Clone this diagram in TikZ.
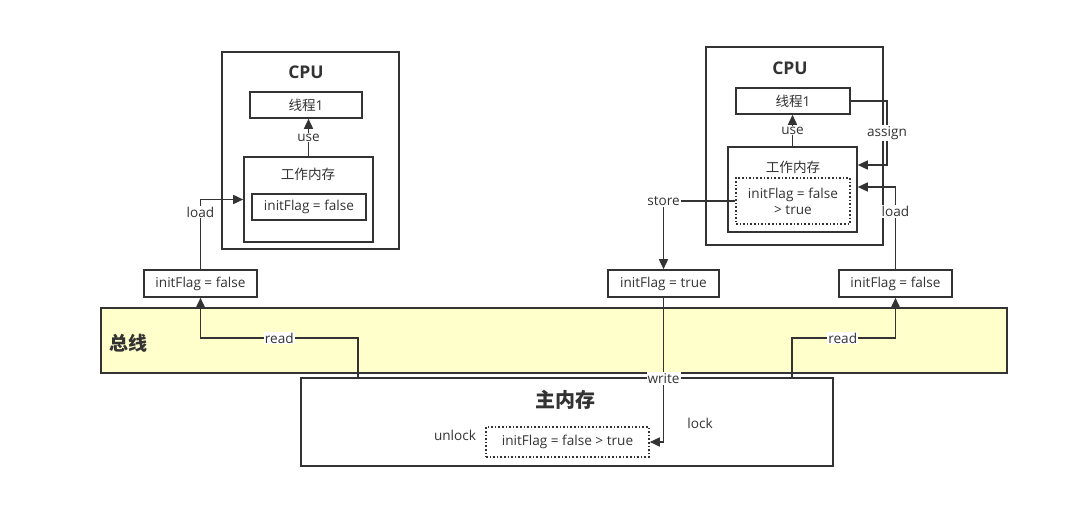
\documentclass[tikz,border=0pt]{standalone}
\usepackage{fontspec}
\setmainfont{Open Sans}
\newfontfamily\cjk{Noto Sans CJK SC}
\usetikzlibrary{arrows.meta}
\definecolor{ln}{HTML}{333333}
\definecolor{busfill}{HTML}{FFFFCC}
\tikzset{
  box/.style={draw=ln, line width=1.6pt, fill=white, inner sep=0pt, text=ln, font=\fontsize{13.6}{16}\selectfont},
  dotbox/.style={box, dotted, align=center},
  plain/.style={inner sep=1pt, text=ln, font=\fontsize{13.6}{16}\selectfont},
  lab/.style={plain, fill=white},
  title/.style={inner sep=0pt, text=ln, font=\fontsize{17.5}{20}\selectfont\bfseries},
  conn/.style={draw=ln, line width=1.6pt, -{Triangle[length=10pt,width=9pt]}},
}
\begin{document}
\begin{tikzpicture}[x=1pt,y=-1pt]
\useasboundingbox (0,0) rectangle (1069,529);

% bus
\node[box, fill=busfill, minimum width=906pt, minimum height=65pt] (bus) at (554,340.5) {};
\node[title, font=\fontsize{19}{22}\selectfont\bfseries\cjk] (bustxt) at (128,343) {总线};

% main memory
\node[box, minimum width=532pt, minimum height=88pt] (main) at (567,422) {};
\node[title, font=\fontsize{20}{23}\selectfont\bfseries\cjk] (maintxt) at (565,400) {主内存};
\node[dotbox, minimum width=163pt, minimum height=30pt] (mdot) at (567.5,442) {initFlag = false > true};
\node[plain] (unlock) at (455,435) {unlock};
\node[plain] (lock) at (700,423) {lock};

% left CPU
\node[box, minimum width=177pt, minimum height=197pt] (lcpu) at (310.5,150.5) {};
\node[title] (lcputxt) at (306,72) {CPU};
\node[box, minimum width=112pt, minimum height=26pt] (lthr) at (306,105) {{\cjk 线程}1};
\node[box, minimum width=129pt, minimum height=85pt] (lwm) at (308.5,199.5) {};
\node[plain] (lwmtxt) at (308,174) {\cjk 工作内存};
\node[box, minimum width=114pt, minimum height=26pt] (lvar) at (309,207) {initFlag = false};
\node[box, minimum width=113pt, minimum height=27pt] (linit) at (200.5,283.5) {initFlag = false};

% right CPU
\node[box, minimum width=177pt, minimum height=198pt] (rcpu) at (794.5,146) {};
\node[title] (rcputxt) at (790,68) {CPU};
\node[box, minimum width=114pt, minimum height=26pt] (rthr) at (793,101) {{\cjk 线程}1};
\node[box, minimum width=129pt, minimum height=85pt] (rwm) at (792.5,189.5) {};
\node[plain] (rwmtxt) at (793,167) {\cjk 工作内存};
\node[dotbox, minimum width=114pt, minimum height=46pt] (rdot) at (793,201) {initFlag = false\\> true};
\node[box, minimum width=111pt, minimum height=27pt] (rtrue) at (663.5,283.5) {initFlag = true};
\node[box, minimum width=113pt, minimum height=27pt] (rinit) at (895.5,283.5) {initFlag = false};

% connectors
\draw[conn] (lwm.north) -- (lwm.north |- lthr.south) node[lab, midway] {use};
\draw[conn] (linit.north) |- (lwm.west) node[lab, pos=0.41] {load};
\draw[conn] (rwm.north) -- (rwm.north |- rthr.south) node[lab, midway] {use};
\coordinate (asg) at (887,165);
\draw[conn] (rthr.east) -| (asg) node[lab, pos=0.75] {assign} -- (rwm.east |- asg);
\draw[conn] (rinit.north) |- ([yshift=2.5pt]rwm.east) node[lab, pos=0.35] {load};
\draw[conn] (rdot.west) -| (rtrue.north) node[lab, pos=0.5] {store};
\draw[conn] (rtrue.south) |- (mdot.east) node[lab, pos=0.28] {write};
\coordinate (lr) at (358,338);
\draw[conn] (main.north -| lr) -- (lr) -| (linit.south) node[lab, pos=0.25] {read};
\coordinate (rr) at (792,338);
\draw[conn] (main.north -| rr) -- (rr) -| (rinit.south) node[lab, pos=0.245] {read};
\end{tikzpicture}
\end{document}
